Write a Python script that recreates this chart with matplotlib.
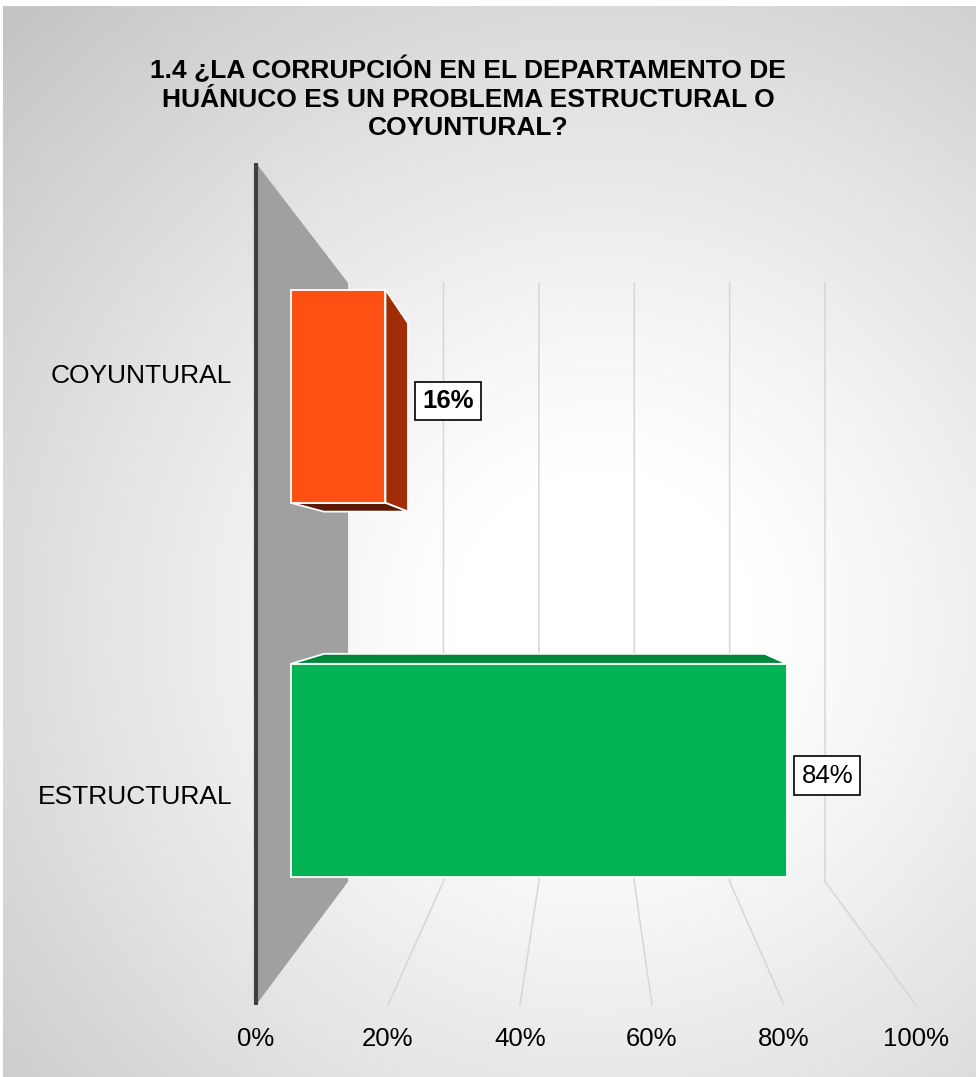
import numpy as np
import matplotlib.pyplot as plt
from matplotlib.patches import Polygon

# datos del gráfico
categorias = ["COYUNTURAL", "ESTRUCTURAL"]
porcentajes = [16, 84]
etiquetas = ["16%", "84%"]
etiqueta_negrita = [True, False]
ticks_x = [0, 20, 40, 60, 80, 100]
ticks_x_txt = ["0%", "20%", "40%", "60%", "80%", "100%"]
titulo = ("1.4 ¿LA CORRUPCIÓN EN EL DEPARTAMENTO DE\n"
          "HUÁNUCO ES UN PROBLEMA ESTRUCTURAL O\n"
          "COYUNTURAL?")

# colores: frente, lado, arriba/abajo
colores = [
    {"frente": "#FF5014", "lado": "#A22C07", "abajo": "#5E1904", "arriba": "#C43A0C"},
    {"frente": "#04B454", "lado": "#018A3D", "abajo": "#015F2A", "arriba": "#00873A"},
]

plt.rcParams["font.family"] = ["Liberation Sans", "DejaVu Sans"]

# perspectiva simple: punto de fuga y profundidad (x e y por separado)
VPX, VPY = 50.3, 0.486
KX, KY = 0.3837, 0.4065
Z_BARRA = (0.307, 0.672)
ALTO = 0.57


def proy(v, c, z):
    sx = 1.0 / (1.0 + KX * z)
    sy = 1.0 / (1.0 + KY * z)
    return (VPX + sx * (v - VPX), VPY + sy * (c - VPY))


fig = plt.figure(figsize=(9.79, 10.77), dpi=100)

# fondo con degradado radial
bg = fig.add_axes([3 / 979, 0, 973 / 979, 1 - 6 / 1077])
bg.set_axis_off()
h, w = 1071, 973
yy, xx = np.mgrid[0:h, 0:w]
r = np.hypot(xx - 600, yy - 615)
t = np.clip((r - 150) / 690, 0, 1) ** 1.15
val = (255 - 58 * t) / 255
bg.imshow(np.dstack([val, val, val]), aspect="auto", extent=(0, 1, 0, 1))
bg.set_xlim(0, 1)
bg.set_ylim(0, 1)

ax = fig.add_axes([256 / 979, 72 / 1077, 660 / 979, 842 / 1077])
ax.set_xlim(0, 100)
ax.set_ylim(1.5, -0.5)
ax.patch.set_alpha(0)
for sp in ax.spines.values():
    sp.set_visible(False)

# pared lateral gris
pared = [proy(0, -0.5, 0), proy(0, -0.5, 1), proy(0, 1.5, 1), proy(0, 1.5, 0)]
ax.add_patch(Polygon(pared, closed=True, facecolor="#A0A0A0", edgecolor="none",
                     clip_on=False, zorder=1))

# líneas de cuadrícula (pared del fondo y piso)
for v in ticks_x[1:]:
    p1, p2, p3 = proy(v, -0.5, 1), proy(v, 1.5, 1), proy(v, 1.5, 0)
    ax.plot([p1[0], p2[0], p3[0]], [p1[1], p2[1], p3[1]], color="#D6D6D6",
            lw=1.1, clip_on=False, zorder=0.5)

# eje
ax.plot([0, 0], [-0.5, 1.5], color="#404040", lw=3, clip_on=False, zorder=2,
        solid_capstyle="butt")

# barras 3D
for i, (cat, v) in enumerate(zip(categorias, porcentajes)):
    c0, c1 = i - ALTO / 2, i + ALTO / 2
    z0, z1 = Z_BARRA
    col = colores[i]
    caras = []
    if v < VPX:
        caras.append(([proy(v, c0, z0), proy(v, c0, z1), proy(v, c1, z1), proy(v, c1, z0)], col["lado"]))
    if c1 < VPY:
        caras.append(([proy(0, c1, z0), proy(0, c1, z1), proy(v, c1, z1), proy(v, c1, z0)], col["abajo"]))
    if c0 > VPY:
        caras.append(([proy(0, c0, z0), proy(0, c0, z1), proy(v, c0, z1), proy(v, c0, z0)], col["arriba"]))
    caras.append(([proy(0, c0, z0), proy(v, c0, z0), proy(v, c1, z0), proy(0, c1, z0)], col["frente"]))
    for pts, fc in caras:
        ax.add_patch(Polygon(pts, closed=True, facecolor=fc, edgecolor="white",
                             lw=1.3, joinstyle="miter", clip_on=False, zorder=3))

    # etiqueta de datos
    xr = max(proy(v, i, z0)[0], proy(v, i, z1)[0] if v < VPX else -1)
    yl = proy(v, i, z0)[1] + 0.012
    ax.text(xr + 2.2, yl, etiquetas[i], fontsize=18.5,
            fontweight="bold" if etiqueta_negrita[i] else "normal",
            ha="left", va="center", zorder=5,
            bbox=dict(boxstyle="square,pad=0.28", facecolor="white",
                      edgecolor="black", lw=1.2))

ax.set_xticks(ticks_x, ticks_x_txt, fontsize=18.5)
ax.set_yticks(range(len(categorias)), categorias, fontsize=19)
ax.tick_params(axis="x", length=0, pad=16)
ax.tick_params(axis="y", length=0, pad=17)

fig.text(468 / 979, 1 - 98 / 1077, titulo, ha="center", va="center",
         fontsize=19, fontweight="bold", linespacing=1.22)

fig.savefig("out.png", dpi=100)
